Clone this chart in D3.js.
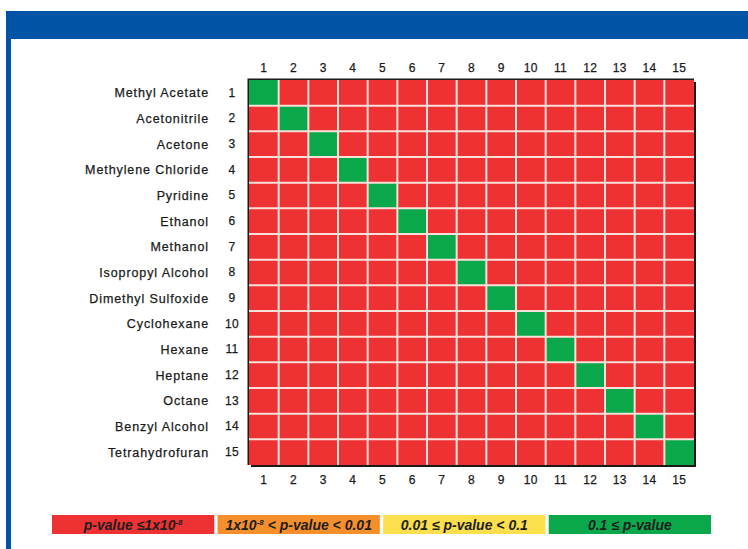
<!DOCTYPE html>
<html><head><meta charset="utf-8">
<script src="https://cdn.jsdelivr.net/npm/d3@7"></script>
<style>body{margin:0;background:#fff;}svg{display:block;}</style>
</head><body>
<svg id="c" width="748" height="549"></svg>
<script>
const solvents = ["Methyl Acetate","Acetonitrile","Acetone","Methylene Chloride","Pyridine","Ethanol","Methanol","Isopropyl Alcohol","Dimethyl Sulfoxide","Cyclohexane","Hexane","Heptane","Octane","Benzyl Alcohol","Tetrahydrofuran"];
const indices = ["1","2","3","4","5","6","7","8","9","10","11","12","13","14","15"];
// category per cell: 0 = p<=1e-8, 1 = 1e-8<p<0.01, 2 = 0.01<=p<0.1, 3 = 0.1<=p
const matrix = [
[3,0,0,0,0,0,0,0,0,0,0,0,0,0,0],
[0,3,0,0,0,0,0,0,0,0,0,0,0,0,0],
[0,0,3,0,0,0,0,0,0,0,0,0,0,0,0],
[0,0,0,3,0,0,0,0,0,0,0,0,0,0,0],
[0,0,0,0,3,0,0,0,0,0,0,0,0,0,0],
[0,0,0,0,0,3,0,0,0,0,0,0,0,0,0],
[0,0,0,0,0,0,3,0,0,0,0,0,0,0,0],
[0,0,0,0,0,0,0,3,0,0,0,0,0,0,0],
[0,0,0,0,0,0,0,0,3,0,0,0,0,0,0],
[0,0,0,0,0,0,0,0,0,3,0,0,0,0,0],
[0,0,0,0,0,0,0,0,0,0,3,0,0,0,0],
[0,0,0,0,0,0,0,0,0,0,0,3,0,0,0],
[0,0,0,0,0,0,0,0,0,0,0,0,3,0,0],
[0,0,0,0,0,0,0,0,0,0,0,0,0,3,0],
[0,0,0,0,0,0,0,0,0,0,0,0,0,0,3]
];
const categories = [0,1,2,3];
const categoryColors = ["#ee3233","#f58f2c","#fbdf4c","#0ba84b"];
const legendLabels = [
  [{t:"p-value ≤1x10"},{t:"-8",sup:true}],
  [{t:"1x10"},{t:"-8",sup:true},{t:" < p-value < 0.01"}],
  [{t:"0.01 ≤ p-value < 0.1"}],
  [{t:"0.1 ≤ p-value"}]
];

const svg = d3.select("#c");
const font = "'Liberation Sans', Arial, Helvetica, sans-serif";

// frame
svg.append("rect").attr("x",6).attr("y",11).attr("width",742).attr("height",28).attr("fill","#0053a5");
svg.append("rect").attr("x",6).attr("y",11).attr("width",5).attr("height",538).attr("fill","#0053a5");

const gx0 = 249, gx1 = 694, gy0 = 80, gy1 = 465;
const x = d3.scaleBand().domain(indices).range([gx0,gx1]);
const y = d3.scaleBand().domain(indices).range([gy0,gy1]);
const color = d3.scaleOrdinal().domain(categories).range(categoryColors);

// shadow border
svg.append("rect").attr("x",gx0+2).attr("y",gy0+2).attr("width",gx1-gx0).attr("height",gy1-gy0).attr("fill","#1a1a1a");
svg.append("rect").attr("x",gx0-1.5).attr("y",gy0-1.5).attr("width",gx1-gx0+1.5).attr("height",gy1-gy0+1.5).attr("fill","#1a1a1a");

const cells = [];
matrix.forEach((row,i)=>row.forEach((v,j)=>cells.push({r:indices[i],c:indices[j],v})));
svg.append("g").selectAll("rect").data(cells).join("rect")
  .attr("x",d=>x(d.c)).attr("y",d=>y(d.r))
  .attr("width",x.bandwidth()).attr("height",y.bandwidth())
  .attr("fill",d=>color(d.v));
// grid lines
const gl = svg.append("g").attr("stroke","#f9e0d8").attr("stroke-width",2);
indices.slice(1).forEach(k=>{
  gl.append("line").attr("x1",x(k)).attr("x2",x(k)).attr("y1",gy0).attr("y2",gy1);
  gl.append("line").attr("y1",y(k)).attr("y2",y(k)).attr("x1",gx0).attr("x2",gx1);
});

// axes
const axStyle = g=>{g.select(".domain").remove();g.selectAll(".tick line").remove();
  g.selectAll("text").attr("font-family",font).attr("font-size",12).attr("fill","#1a1a1a")
   .attr("stroke","#1a1a1a").attr("stroke-width",0.25).attr("letter-spacing","0.3px");};
svg.append("g").attr("transform",`translate(0,${gy0-6})`).call(d3.axisTop(x).tickSize(0).tickPadding(2)).call(axStyle);
svg.append("g").attr("transform",`translate(0,${gy1+6})`).call(d3.axisBottom(x).tickSize(0).tickPadding(4)).call(axStyle);
svg.append("g").attr("transform",`translate(232,0)`).call(d3.axisLeft(y).tickSize(0).tickPadding(0)).call(axStyle)
  .selectAll("text").attr("text-anchor","middle");
svg.append("g").selectAll("text").data(solvents).join("text")
  .attr("x",209).attr("y",(d,i)=>y(indices[i])+y.bandwidth()/2).attr("dy","0.35em")
  .attr("text-anchor","end").attr("font-family",font).attr("font-size",12.5)
  .attr("letter-spacing","0.9px").attr("fill","#1a1a1a").attr("stroke","#1a1a1a").attr("stroke-width",0.25).text(d=>d);

// legend
const lx = d3.scaleBand().domain(categories).range([52,711]).paddingInner(0.02);
const lg = svg.append("g").selectAll("g").data(categories).join("g");
lg.append("rect").attr("x",d=>lx(d)).attr("y",515).attr("width",lx.bandwidth()).attr("height",19)
  .attr("fill",d=>color(d));
lg.append("text").attr("x",d=>lx(d)+lx.bandwidth()/2).attr("y",529.5).attr("text-anchor","middle")
  .attr("font-family",font).attr("font-size",14).attr("font-weight","bold").attr("font-style","italic")
  .attr("fill","#1e1e1e")
  .each(function(d){
    const t = d3.select(this);
    legendLabels[d].forEach(p=>{
      const s = t.append("tspan").text(p.t);
      if(p.sup){s.attr("font-size",8).attr("dy",-5);} 
      else if(t.selectAll("tspan").size()>1){s.attr("dy",5);}
    });
  });
</script>
</body></html>
